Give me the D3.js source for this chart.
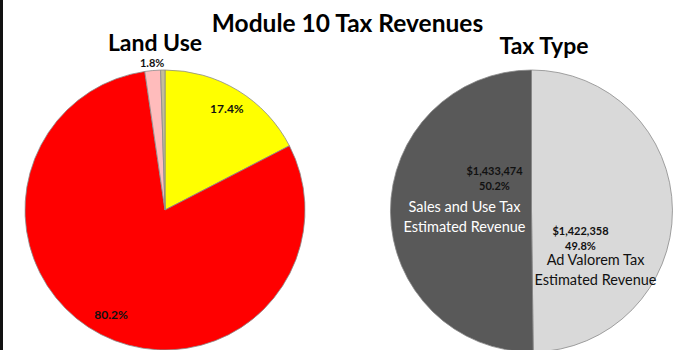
<!DOCTYPE html>
<html><head><meta charset="utf-8">
<script src="https://cdn.jsdelivr.net/npm/d3@7"></script>
<style>html,body{margin:0;padding:0;background:#fff;}svg{display:block;}</style>
</head><body>
<svg id="c" width="685" height="350"></svg>
<script>
// ---- data ----
const landUseCategories = ["Commercial", "Residential", "Industrial", "Other"];
const landUseValues = [17.4, 80.2, 1.8, 0.5];
const landUseLabels = ["17.4%", "80.2%", "1.8%", ""];

const taxTypeCategories = ["Ad Valorem Tax Estimated Revenue", "Sales and Use Tax Estimated Revenue"];
const taxTypeValues = [1422358, 1433474];
const taxTypeLabels = ["$1,422,358", "$1,433,474"];
const taxTypePercents = ["49.8%", "50.2%"];

// ---- styles / layout ----
const font = "Lato, 'Open Sans', sans-serif";
const landColors = ["#ffff00", "#ff0000", "#ffbcbc", "#c4bd97"];
const taxColors = ["#d9d9d9", "#595959"];

const svg = d3.select("#c");
svg.append("rect").attr("x", 0).attr("y", 0).attr("width", 3).attr("height", 350).attr("fill", "#111");

// titles
svg.append("text").attr("x", 347.5).attr("y", 32).attr("text-anchor", "middle")
  .attr("font-family", font).attr("font-weight", 700).attr("font-size", 24.5).text("Module 10 Tax Revenues");
svg.append("text").attr("x", 155).attr("y", 51).attr("text-anchor", "middle")
  .attr("font-family", font).attr("font-weight", 700).attr("font-size", 23).text("Land Use");
svg.append("text").attr("x", 544).attr("y", 54).attr("text-anchor", "middle")
  .attr("font-family", font).attr("font-weight", 700).attr("font-size", 23).text("Tax Type");

const pie = d3.pie().sort(null).value(d => d);

// ---- Land Use pie ----
const R1 = 140;
const g1 = svg.append("g").attr("transform", "translate(165,210)");
const arc1 = d3.arc().innerRadius(0).outerRadius(R1);
const arcs1 = pie(landUseValues);
g1.selectAll("path").data(arcs1).join("path")
  .attr("d", arc1).attr("fill", (d, i) => landColors[i])
  .attr("stroke", "#8a8a8a").attr("stroke-width", 0.8);
const labelR = [119, 118, 147, 0];
const labelSize = [12, 12, 11, 11];
g1.selectAll("text.lbl").data(arcs1).join("text").attr("class", "lbl")
  .each(function (d, i) {
    const c = d3.arc().innerRadius(labelR[i]).outerRadius(labelR[i]).centroid(d);
    d3.select(this).attr("x", c[0]).attr("y", c[1]);
  })
  .attr("dy", "0.35em").attr("text-anchor", "middle")
  .attr("font-family", font).attr("font-weight", 700)
  .attr("font-size", (d, i) => labelSize[i]).attr("fill", "#111")
  .text((d, i) => landUseLabels[i]);

// ---- Tax Type pie ----
const R2 = 141;
const cx2 = 531.5, cy2 = 211;
const g2 = svg.append("g").attr("transform", `translate(${cx2},${cy2})`);
const arc2 = d3.arc().innerRadius(0).outerRadius(R2);
const arcs2 = pie(taxTypeValues);
g2.selectAll("path").data(arcs2).join("path")
  .attr("d", arc2).attr("fill", (d, i) => taxColors[i])
  .attr("stroke", "#8a8a8a").attr("stroke-width", 0.8);

// label block placement (relative to pie centre)
const valuePos = [[49, 24], [-37, -36]];
const namePos = [[64, 54], [-67, 1]];
const nameColor = ["#111", "#fff"];
const nameLines = [["Ad Valorem Tax", "Estimated Revenue"], ["Sales and Use Tax", "Estimated Revenue"]];
arcs2.forEach((d, i) => {
  const vp = valuePos[i], np = namePos[i];
  g2.append("text").attr("x", vp[0]).attr("y", vp[1]).attr("text-anchor", "middle")
    .attr("font-family", font).attr("font-weight", 700).attr("font-size", 11).attr("fill", "#111")
    .text(taxTypeLabels[i]);
  g2.append("text").attr("x", vp[0]).attr("y", vp[1] + 14.5).attr("text-anchor", "middle")
    .attr("font-family", font).attr("font-weight", 700).attr("font-size", 11).attr("fill", "#111")
    .text(taxTypePercents[i]);
  nameLines[i].forEach((ln, k) => {
    g2.append("text").attr("x", np[0]).attr("y", np[1] + k * 20).attr("text-anchor", "middle")
      .attr("font-family", font).attr("font-size", 14.5).attr("fill", nameColor[i]).text(ln);
  });
});
</script>
</body></html>
